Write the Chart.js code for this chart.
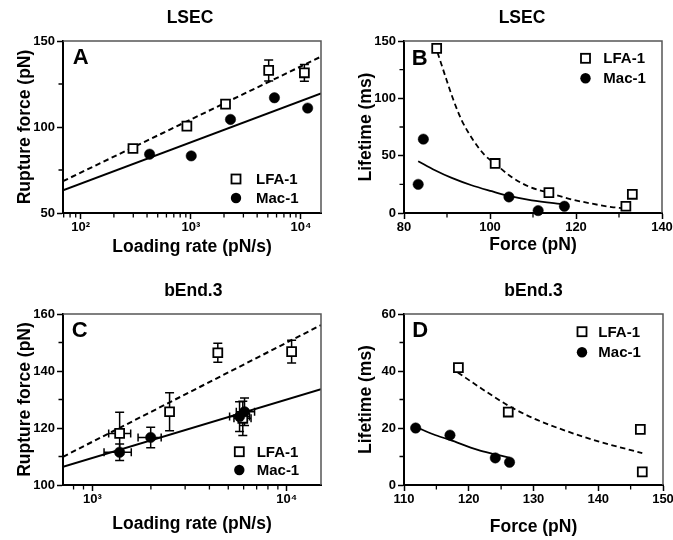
<!DOCTYPE html>
<html>
<head>
<meta charset="utf-8">
<script src="https://cdn.jsdelivr.net/npm/chart.js@4"></script>
<style>
  html, body { margin: 0; padding: 0; background: #fff; }
  #wrap { position: relative; width: 673px; height: 540px; overflow: hidden; }
  canvas { position: absolute; }
</style>
</head>
<body>
<div id="wrap">
  <canvas id="chartA" width="336" height="270" style="left:0;top:0"></canvas>
  <canvas id="chartB" width="337" height="270" style="left:336px;top:0"></canvas>
  <canvas id="chartC" width="336" height="270" style="left:0;top:270px"></canvas>
  <canvas id="chartD" width="337" height="270" style="left:336px;top:270px"></canvas>
</div>
<script>
// Panel A - LSEC, rupture force vs loading rate
const aLfaRate = [298, 920, 2065, 5090, 10740];
const aLfaForce = [87.5, 100.5, 113.3, 132.9, 131.5];
const aLfaErr = [0, 0, 0, 6.1, 4.9];
const aMacRate = [422, 1008, 2290, 5740, 11500];
const aMacForce = [84.2, 83.2, 104.4, 117, 111];
const aLfaFitRate = [69, 15200];
const aLfaFitForce = [68.5, 140.9];
const aMacFitRate = [69, 15200];
const aMacFitForce = [63.2, 119.5];

// Panel B - LSEC, lifetime vs force
const bLfaForce = [87.6, 101.2, 113.7, 131.6, 133.1];
const bLfaLife = [143.6, 43.2, 17.8, 5.9, 16.3];
const bMacForce = [83.3, 84.5, 104.4, 111.2, 117.3];
const bMacLife = [25, 64.4, 14, 2.1, 5.9];
const bLfaFitForce = [87.8, 89.9, 91.5, 93.4, 96.1, 98.8, 101.2, 105, 108.9, 113.7, 118.2, 123.6, 128.3, 132.2];
const bLfaFitLife = [140, 116, 98.5, 81, 63.5, 50.4, 43, 31.4, 23.3, 17.6, 12.6, 8.2, 5.2, 3.8];
const bMacFitForce = [83.3, 87.2, 91.1, 95.7, 100.4, 104.4, 109.7, 117.4];
const bMacFitLife = [45.2, 37.3, 30.6, 24.2, 19, 14.9, 11.1, 7.6];

// Panel C - bEnd.3, rupture force vs loading rate
const cLfaRate = [1381, 2495, 4418, 10590, 5940];
const cLfaForce = [118.1, 125.7, 146.4, 146.8, 123.4];
const cLfaErr = [7.4, 6.7, 3.3, 4, 6];
const cLfaRateLo = [1213, 0, 0, 0, 5350];
const cLfaRateHi = [1574, 0, 0, 0, 6550];
const cMacRate = [1381, 1995, 5716, 6063];
const cMacForce = [111.5, 116.7, 124, 125.7];
const cMacErr = [2.9, 3.6, 5.2, 4.8];
const cMacRateLo = [1148, 1718, 5080, 5500];
const cMacRateHi = [1585, 2259, 6430, 6830];
const cLfaFitRate = [706, 15000];
const cLfaFitForce = [109.9, 156.1];
const cMacFitRate = [706, 15000];
const cMacFitForce = [106.4, 133.6];

// Panel D - bEnd.3, lifetime vs force
const dLfaForce = [118.4, 126.1, 146.5, 146.8];
const dLfaLife = [41.2, 25.6, 19.5, 4.6];
const dMacForce = [111.8, 117.1, 124.1, 126.3];
const dMacLife = [20, 17.5, 9.5, 8];
const dLfaFitForce = [118.3, 122, 126, 130, 135, 140, 146.8];
const dLfaFitLife = [39.5, 33.8, 28, 23.4, 19, 15.3, 11.2];
const dMacFitForce = [112, 114.5, 117.1, 121.4, 124, 126.4];
const dMacFitLife = [20.2, 17.8, 15.8, 12.3, 10.8, 9.5];

// tick labels
const logLabels = { 100: '10²', 1000: '10³', 10000: '10⁴' };
const seriesNames = ['LFA-1', 'Mac-1'];

const FONT = "'Liberation Sans', Arial, Helvetica, sans-serif";
Chart.defaults.font.family = FONT;

function pts(xs, ys) {
    return xs.map((v, i) => ({ x: v, y: ys[i] }));
}

function squares(xs, ys) {
    return {
        data: pts(xs, ys), showLine: false, clip: false,
        pointStyle: 'rect', pointRadius: 6.3, pointBorderWidth: 1.8,
        pointBackgroundColor: '#fff', pointBorderColor: '#000'
    };
}

function circles(xs, ys) {
    return {
        data: pts(xs, ys), showLine: false, clip: false,
        pointStyle: 'circle', pointRadius: 5.2, pointBorderWidth: 0.5,
        pointBackgroundColor: '#000', pointBorderColor: '#000'
    };
}

function fitLine(xs, ys, dashed, width) {
    return {
        data: pts(xs, ys), showLine: true, pointRadius: 0,
        borderColor: '#000', borderWidth: width, borderDash: dashed ? [5.5, 3.5] : [],
        cubicInterpolationMode: 'monotone', fill: false
    };
}

function scaleOpts(o) {
    return {
        type: o.type || 'linear',
        position: o.position,
        min: o.min, max: o.max, bounds: 'data',
        border: { display: true, color: '#000', width: 2 },
        grid: { display: true, drawOnChartArea: false, drawTicks: true, tickLength: 6, tickWidth: 1.5, tickColor: '#000' },
        ticks: {
            color: '#000', font: { size: 13, weight: 'bold' }, padding: o.tickPad,
            autoSkip: false, maxRotation: 0, minRotation: 0,
            callback: o.label || (v => String(v))
        },
        title: { display: true, text: o.title, color: '#000', font: { size: 17.5, weight: 'bold' }, padding: o.titlePad },
        afterBuildTicks: s => { s.ticks = o.ticks.map(v => ({ value: v })); },
        afterFit: s => {
            if (o.position === 'left') {
                s.width = o.size; s.paddingTop = 0; s.paddingBottom = 0;
            } else {
                s.height = o.size; s.paddingLeft = 0; s.paddingRight = 0;
            }
        }
    };
}

// error bars, drawn under the markers
function errorBars(sets) {
    return {
        id: 'errorBars',
        beforeDatasetsDraw(chart) {
            const { ctx, scales: { x, y } } = chart;
            ctx.save();
            ctx.strokeStyle = '#000';
            ctx.lineWidth = 1.5;
            sets.forEach(s => {
                s.xs.forEach((xv, i) => {
                    const px = x.getPixelForValue(xv);
                    const py = y.getPixelForValue(s.ys[i]);
                    ctx.beginPath();
                    if (s.yErr && s.yErr[i]) {
                        const t = y.getPixelForValue(s.ys[i] + s.yErr[i]);
                        const b = y.getPixelForValue(s.ys[i] - s.yErr[i]);
                        ctx.moveTo(px, t); ctx.lineTo(px, b);
                        ctx.moveTo(px - 4.5, t); ctx.lineTo(px + 4.5, t);
                        ctx.moveTo(px - 4.5, b); ctx.lineTo(px + 4.5, b);
                    }
                    if (s.xLo && s.xLo[i]) {
                        const l = x.getPixelForValue(s.xLo[i]);
                        const r = x.getPixelForValue(s.xHi[i]);
                        ctx.moveTo(l, py); ctx.lineTo(r, py);
                        ctx.moveTo(l, py - 4); ctx.lineTo(l, py + 4);
                        ctx.moveTo(r, py - 4); ctx.lineTo(r, py + 4);
                    }
                    ctx.stroke();
                });
            });
            ctx.restore();
        }
    };
}

// frame, minor ticks, heading, panel letter and legend
function decor(p) {
    return {
        id: 'decor',
        afterDraw(chart) {
            const { ctx, chartArea: a, scales: { x, y } } = chart;
            ctx.save();
            ctx.strokeStyle = '#555';
            ctx.lineWidth = 1.5;
            ctx.beginPath();
            ctx.moveTo(a.left, a.top);
            ctx.lineTo(a.right, a.top);
            ctx.lineTo(a.right, a.bottom);
            ctx.stroke();

            ctx.strokeStyle = '#000';
            ctx.lineWidth = 1.3;
            ctx.beginPath();
            p.minorX.forEach(v => {
                const px = x.getPixelForValue(v);
                ctx.moveTo(px, a.bottom); ctx.lineTo(px, a.bottom + 4.5);
            });
            p.minorY.forEach(v => {
                const py = y.getPixelForValue(v);
                ctx.moveTo(a.left - 4.5, py); ctx.lineTo(a.left, py);
            });
            ctx.stroke();

            ctx.fillStyle = '#000';
            ctx.textBaseline = 'alphabetic';
            ctx.textAlign = 'center';
            ctx.font = 'bold 17.5px ' + FONT;
            ctx.fillText(p.title, p.titleX, p.titleY);
            ctx.textAlign = 'left';
            ctx.font = 'bold 22px ' + FONT;
            ctx.fillText(p.letter, p.letterX, p.letterY);

            // legend
            const L = p.legend;
            ctx.lineWidth = 1.8;
            ctx.fillStyle = '#fff';
            ctx.fillRect(L.x - 4.5, L.y1 - 4.5, 9, 9);
            ctx.strokeRect(L.x - 4.5, L.y1 - 4.5, 9, 9);
            ctx.fillStyle = '#000';
            ctx.beginPath();
            ctx.arc(L.x, L.y2, 5.2, 0, Math.PI * 2);
            ctx.fill();
            ctx.font = 'bold 15px ' + FONT;
            ctx.textBaseline = 'middle';
            ctx.fillText(seriesNames[0], L.tx, L.y1 + 1);
            ctx.fillText(seriesNames[1], L.tx, L.y2 + 1);
            ctx.restore();
        }
    };
}

function makeChart(id, c) {
    return new Chart(document.getElementById(id), {
        type: 'scatter',
        data: { datasets: c.datasets },
        options: {
            responsive: false,
            animation: false,
            devicePixelRatio: 1,
            layout: { padding: c.pad },
            plugins: { legend: { display: false }, tooltip: { enabled: false }, title: { display: false } },
            scales: { x: scaleOpts(c.x), y: scaleOpts(c.y) }
        },
        plugins: [errorBars(c.err || []), decor(c.deco)]
    });
}

const logMinorA = [70, 80, 90, 200, 300, 400, 500, 600, 700, 800, 900, 2000, 3000, 4000, 5000, 6000, 7000, 8000, 9000];
const logMinorC = [800, 900, 2000, 3000, 4000, 5000, 6000, 7000, 8000, 9000];

makeChart('chartA', {
    datasets: [
        circles(aMacRate, aMacForce),
        squares(aLfaRate, aLfaForce),
        fitLine(aLfaFitRate, aLfaFitForce, true, 2),
        fitLine(aMacFitRate, aMacFitForce, false, 2)
    ],
    pad: { left: 0, top: 41, right: 15, bottom: 0 },
    x: { type: 'logarithmic', position: 'bottom', min: 69, max: 15200, ticks: [100, 1000, 10000],
         label: v => logLabels[v] || '', size: 57, tickPad: 1, title: 'Loading rate (pN/s)', titlePad: { top: 0, bottom: 12.5 } },
    y: { position: 'left', min: 50, max: 150, ticks: [50, 100, 150], size: 63, tickPad: 2,
         title: 'Rupture force (pN)', titlePad: { top: 14.5, bottom: 0 } },
    err: [{ xs: aLfaRate, ys: aLfaForce, yErr: aLfaErr }],
    deco: { title: 'LSEC', titleX: 190, titleY: 22.7, letter: 'A', letterX: 72.7, letterY: 64.3,
            minorX: logMinorA, minorY: [75, 125], legend: { x: 236, y1: 179, y2: 198, tx: 256 } }
});

makeChart('chartB', {
    datasets: [
        circles(bMacForce, bMacLife),
        squares(bLfaForce, bLfaLife),
        fitLine(bLfaFitForce, bLfaFitLife, true, 1.8),
        fitLine(bMacFitForce, bMacFitLife, false, 1.8)
    ],
    pad: { left: 0, top: 41, right: 11, bottom: 0 },
    x: { position: 'bottom', min: 80, max: 140, ticks: [80, 100, 120, 140], size: 57, tickPad: 1,
         title: 'Force (pN)', titlePad: { top: 0, bottom: 14.5 } },
    y: { position: 'left', min: 0, max: 150, ticks: [0, 50, 100, 150], size: 68, tickPad: 2,
         title: 'Lifetime (ms)', titlePad: { top: 19.8, bottom: 0 } },
    deco: { title: 'LSEC', titleX: 186, titleY: 22.7, letter: 'B', letterX: 75.7, letterY: 65,
            minorX: [90, 110, 130], minorY: [25, 75, 125], legend: { x: 249.5, y1: 58.3, y2: 78.3, tx: 267.3 } }
});

makeChart('chartC', {
    datasets: [
        circles(cMacRate, cMacForce),
        squares(cLfaRate, cLfaForce),
        fitLine(cLfaFitRate, cLfaFitForce, true, 2),
        fitLine(cMacFitRate, cMacFitForce, false, 2)
    ],
    pad: { left: 0, top: 44, right: 15, bottom: 0 },
    x: { type: 'logarithmic', position: 'bottom', min: 706, max: 15000, ticks: [1000, 10000],
         label: v => logLabels[v] || '', size: 55, tickPad: 1, title: 'Loading rate (pN/s)', titlePad: { top: 0, bottom: 5.5 } },
    y: { position: 'left', min: 100, max: 160, ticks: [100, 120, 140, 160], size: 63, tickPad: 2,
         title: 'Rupture force (pN)', titlePad: { top: 14.5, bottom: 0 } },
    err: [
        { xs: cLfaRate, ys: cLfaForce, yErr: cLfaErr, xLo: cLfaRateLo, xHi: cLfaRateHi },
        { xs: cMacRate, ys: cMacForce, yErr: cMacErr, xLo: cMacRateLo, xHi: cMacRateHi }
    ],
    deco: { title: 'bEnd.3', titleX: 193.3, titleY: 26, letter: 'C', letterX: 71.7, letterY: 66.7,
            minorX: logMinorC, minorY: [110, 130, 150], legend: { x: 239.3, y1: 181.7, y2: 200, tx: 256.7 } }
});

makeChart('chartD', {
    datasets: [
        circles(dMacForce, dMacLife),
        squares(dLfaForce, dLfaLife),
        fitLine(dLfaFitForce, dLfaFitLife, true, 1.8),
        fitLine(dMacFitForce, dMacFitLife, false, 1.8)
    ],
    pad: { left: 0, top: 44, right: 10, bottom: 0 },
    x: { position: 'bottom', min: 110, max: 150, ticks: [110, 120, 130, 140, 150], size: 55, tickPad: 1,
         title: 'Force (pN)', titlePad: { top: 0, bottom: 2.2 } },
    y: { position: 'left', min: 0, max: 60, ticks: [0, 20, 40, 60], size: 68, tickPad: 2,
         title: 'Lifetime (ms)', titlePad: { top: 19.8, bottom: 0 } },
    deco: { title: 'bEnd.3', titleX: 197.5, titleY: 26, letter: 'D', letterX: 76.3, letterY: 66.7,
            minorX: [115, 125, 135, 145], minorY: [10, 30, 50], legend: { x: 246, y1: 61.7, y2: 82.3, tx: 262.3 } }
});
</script>
</body>
</html>
